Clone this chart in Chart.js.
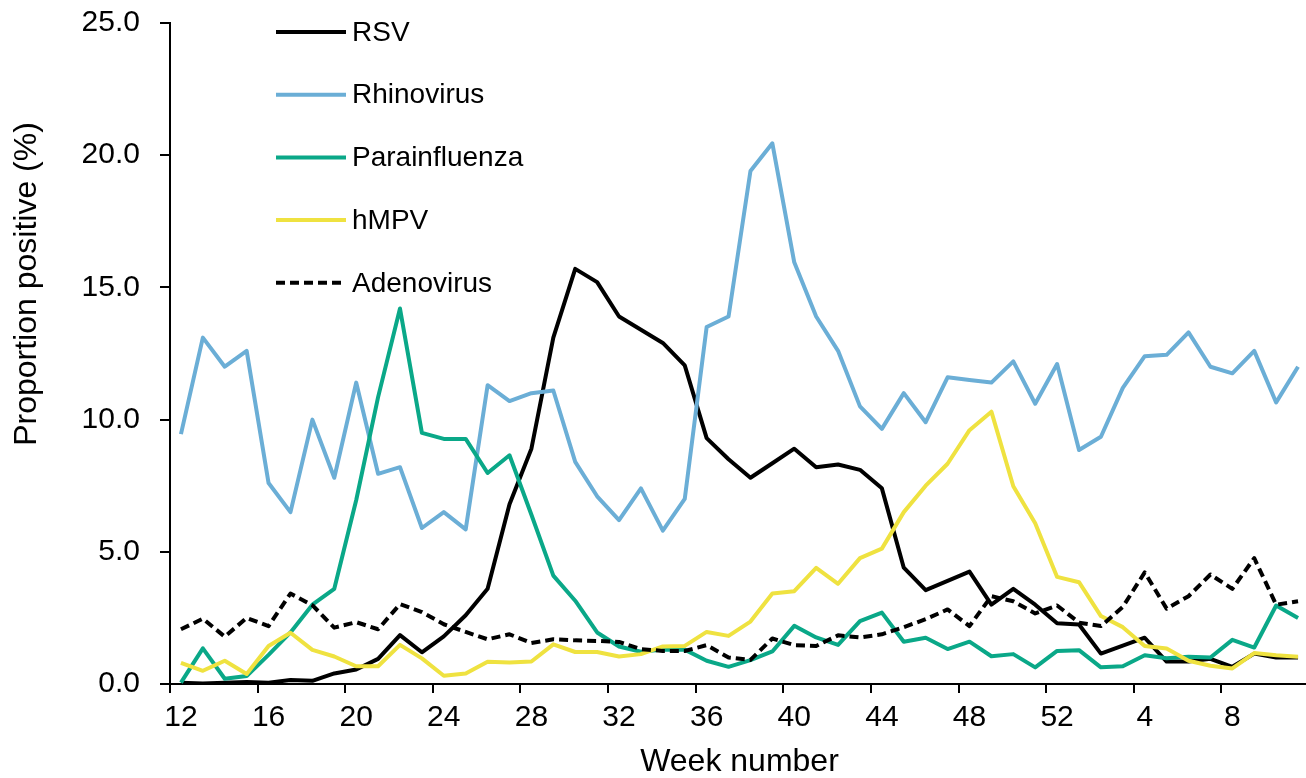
<!DOCTYPE html>
<html>
<head>
<meta charset="utf-8">
<title>Proportion positive by week</title>
<script src="https://cdn.jsdelivr.net/npm/chart.js@4.4.1/dist/chart.umd.min.js"></script>
<style>
  html, body { margin: 0; padding: 0; background: #fff; overflow: hidden; }
  #wrap { width: 1312px; height: 778px; }
</style>
</head>
<body>
<div id="wrap"><canvas id="virusChart" width="1312" height="778"></canvas></div>
<script>
// week numbers, season runs from week 12 to week 11 of the next year
const weekLabels = ['12','13','14','15','16','17','18','19','20','21','22','23','24','25','26','27','28','29','30','31',
  '32','33','34','35','36','37','38','39','40','41','42','43','44','45','46','47','48','49','50','51','52',
  '1','2','3','4','5','6','7','8','9','10','11'];
const tickWeeks = ['12','16','20','24','28','32','36','40','44','48','52','4','8'];

// proportion positive (%)
const rsv = [0.05,0.02,0.05,0.08,0.05,0.15,0.12,0.4,0.55,0.95,1.85,1.2,1.8,2.6,3.6,6.8,8.9,13.1,15.7,15.2,
  13.9,13.4,12.9,12.05,9.3,8.5,7.8,8.35,8.9,8.2,8.3,8.1,7.4,4.4,3.55,3.9,4.25,3.0,3.6,3.0,
  2.3,2.25,1.15,1.45,1.75,0.85,0.85,0.95,0.65,1.15,1.0,1.0];
const rhinovirus = [9.45,13.1,12.0,12.6,7.6,6.5,10.0,7.8,11.4,7.95,8.2,5.9,6.5,5.85,11.3,10.7,11.0,11.1,8.4,7.1,
  6.2,7.4,5.8,7.0,13.5,13.9,19.4,20.45,15.95,13.9,12.6,10.5,9.65,11.0,9.9,11.6,11.5,11.4,12.2,10.6,
  12.1,8.85,9.35,11.2,12.4,12.45,13.3,12.0,11.75,12.6,10.65,12.0];
const parainfluenza = [0.05,1.35,0.2,0.3,1.1,1.95,3.0,3.6,6.95,10.85,14.2,9.5,9.27,9.27,7.98,8.65,6.4,4.1,3.15,1.95,
  1.42,1.22,1.3,1.3,0.88,0.65,0.9,1.23,2.2,1.76,1.48,2.38,2.7,1.6,1.75,1.32,1.6,1.05,1.13,0.63,
  1.25,1.28,0.63,0.67,1.09,0.97,1.03,1.0,1.67,1.38,2.97,2.5];
const hmpv = [0.8,0.5,0.88,0.38,1.44,1.94,1.29,1.04,0.67,0.67,1.48,0.97,0.31,0.4,0.84,0.81,0.85,1.5,1.21,1.21,
  1.04,1.13,1.42,1.44,1.97,1.82,2.36,3.42,3.51,4.39,3.79,4.76,5.12,6.5,7.5,8.33,9.6,10.3,7.48,6.08,
  4.05,3.85,2.57,2.15,1.44,1.34,0.88,0.69,0.59,1.17,1.09,1.03];
const adenovirus = [2.07,2.47,1.79,2.5,2.19,3.42,2.98,2.13,2.34,2.07,3.02,2.72,2.26,1.97,1.69,1.88,1.55,1.69,1.65,1.63,
  1.59,1.32,1.25,1.25,1.47,1.0,0.91,1.72,1.47,1.44,1.84,1.76,1.88,2.15,2.45,2.82,2.19,3.32,3.13,2.67,
  2.97,2.32,2.19,2.92,4.22,2.85,3.32,4.14,3.6,4.76,3.0,3.13];

const FONT = '"Liberation Sans", Arial, Helvetica, sans-serif';
Chart.defaults.font.family = FONT;
Chart.defaults.color = '#000';

// legend drawn inside the plot, top left, like the original
const insideLegend = {
  id: 'insideLegend',
  afterDraw(chart) {
    const c = chart.ctx;
    c.save();
    chart.data.datasets.forEach((ds, i) => {
      const y = 32 + i * 62.7;
      c.strokeStyle = ds.borderColor;
      c.lineWidth = ds.borderWidth;
      c.setLineDash(ds.borderDash || []);
      c.beginPath();
      c.moveTo(276, y);
      c.lineTo(346, y);
      c.stroke();
      c.setLineDash([]);
      c.fillStyle = '#000';
      c.font = '28px ' + FONT;
      c.textBaseline = 'middle';
      c.textAlign = 'left';
      c.fillText(ds.label, 352, y + 1);
    });
    c.restore();
  }
};

// y title sits a bit above the middle of the axis in the original
const yTitle = {
  id: 'yTitle',
  afterDraw(chart) {
    const c = chart.ctx;
    c.save();
    c.translate(27, 284);
    c.rotate(-Math.PI / 2);
    c.font = '32px ' + FONT;
    c.fillStyle = '#000';
    c.textAlign = 'center';
    c.textBaseline = 'middle';
    c.fillText('Proportion positive (%)', 0, 0);
    c.restore();
  }
};

const ctx = document.getElementById('virusChart').getContext('2d');

function lineSet(label, data, color, order, dash) {
  return {
    label: label,
    data: data,
    borderColor: color,
    backgroundColor: color,
    borderWidth: 4,
    borderDash: dash || [],
    borderJoinStyle: 'round',
    pointRadius: 0,
    tension: 0,
    fill: false,
    order: order
  };
}

new Chart(ctx, {
  type: 'line',
  data: {
    labels: weekLabels,
    datasets: [
      lineSet('RSV', rsv, '#000000', 4),
      lineSet('Rhinovirus', rhinovirus, '#6baed6', 3),
      lineSet('Parainfluenza', parainfluenza, '#0aa888', 2),
      lineSet('hMPV', hmpv, '#efe240', 1),
      lineSet('Adenovirus', adenovirus, '#000000', 0, [9, 5])
    ]
  },
  options: {
    responsive: false,
    animation: false,
    layout: { padding: { left: 0, right: 3, top: 23, bottom: 0 } },
    plugins: {
      legend: { display: false },
      tooltip: { enabled: false }
    },
    scales: {
      x: {
        type: 'category',
        offset: true,
        afterFit: s => { s.height = 94; },
        grid: {
          offset: true,
          drawOnChartArea: false,
          drawTicks: true,
          tickLength: 9,
          lineWidth: 2,
          color: c => (c.type === 'tick' && tickWeeks.includes(weekLabels[c.index])) ? '#000' : 'rgba(0,0,0,0)'
        },
        border: { display: true, color: '#000', width: 2 },
        ticks: {
          autoSkip: false,
          maxRotation: 0,
          minRotation: 0,
          padding: 7,
          font: { size: 30 },
          callback: (v, i) => tickWeeks.includes(weekLabels[i]) ? weekLabels[i] : ''
        },
        title: {
          display: true,
          text: 'Week number',
          font: { size: 32, lineHeight: 1 },
          padding: { top: 0, bottom: 0 }
        }
      },
      y: {
        min: 0,
        max: 25,
        // fixed axis width, and no extra room above the top label
        afterFit: s => { s.width = 170; s.paddingTop = 0; s.paddingBottom = 0; },
        grid: {
          drawOnChartArea: false,
          drawTicks: true,
          tickLength: 10,
          lineWidth: 2,
          color: '#000'
        },
        border: { display: true, color: '#000', width: 2 },
        ticks: {
          stepSize: 5,
          padding: 20,
          font: { size: 30 },
          callback: v => v.toFixed(1)
        }
      }
    }
  },
  plugins: [insideLegend, yTitle]
});
</script>
</body>
</html>
